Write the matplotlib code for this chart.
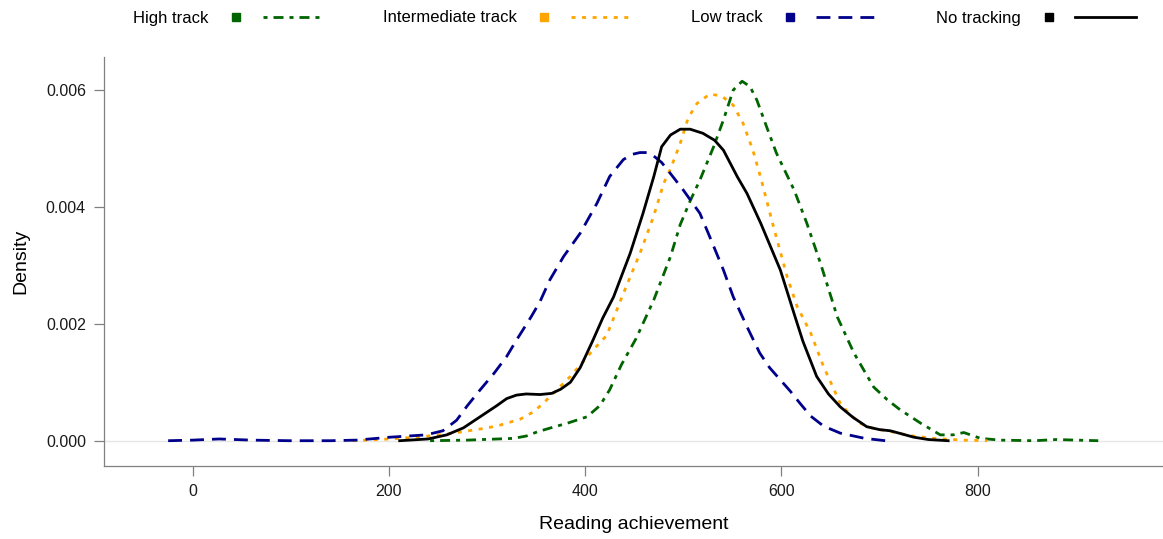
import matplotlib
matplotlib.use("Agg")
import matplotlib.pyplot as plt
from matplotlib.lines import Line2D
from matplotlib.legend_handler import HandlerBase

plt.rcParams['font.family'] = ['Liberation Sans', 'DejaVu Sans']

# Density curves (reading score, density)
high_x = [242, 280, 327, 340, 351, 365, 382, 402, 415, 425, 437, 452, 470, 487,
          497, 507, 517, 531, 541, 551, 560, 568, 575, 585, 595, 613, 626, 640,
          657, 674, 694, 708, 721, 742, 762, 775, 786, 803, 823, 858, 880, 923]
high_y = [0.0, 0.00001, 0.00004, 0.00008, 0.00015, 0.00022, 0.0003, 0.00041,
          0.0006, 0.00087, 0.0013, 0.00175, 0.00241, 0.00315, 0.0037, 0.0041,
          0.00446, 0.00503, 0.00549, 0.006, 0.00615, 0.00606, 0.00583, 0.00537,
          0.00492, 0.00429, 0.00372, 0.00303, 0.00212, 0.0015, 0.00092, 0.0007,
          0.00053, 0.0003, 0.0001, 0.0001, 0.00014, 0.00004, 0.00001, 0.0,
          0.00002, 0.0]

inter_x = [163, 190, 211, 240, 262, 293, 310, 334, 348, 361, 373, 385, 408, 422,
           439, 456, 470, 480, 487, 497, 505, 514, 527, 539, 551, 561, 571, 579,
           592, 606, 616, 630, 643, 660, 670, 680, 695, 708, 730, 755, 785, 810]
inter_y = [0.0, 0.00002, 0.00004, 0.00008, 0.00012, 0.0002, 0.00025, 0.00037,
           0.0005, 0.0007, 0.0009, 0.0011, 0.00155, 0.0018, 0.00252, 0.00321,
           0.00385, 0.0044, 0.00465, 0.00509, 0.00552, 0.00577, 0.00593, 0.0059,
           0.00574, 0.00543, 0.00497, 0.0045, 0.00366, 0.0028, 0.0023, 0.00184,
           0.00127, 0.00064, 0.00045, 0.0003, 0.0002, 0.00017, 0.00009, 0.00004,
           0.00001, 0.0]

low_x = [-25, 0, 27, 60, 99, 140, 167, 201, 238, 255, 269, 280, 293, 307, 320,
         330, 345, 354, 364, 378, 395, 412, 425, 439, 448, 456, 463, 470, 478,
         487, 500, 517, 527, 541, 551, 565, 578, 588, 599, 609, 619, 630, 643,
         660, 685, 706]
low_y = [0.0, 0.00001, 0.00003, 0.00001, 0.0, 0.0, 0.00001, 0.00006, 0.0001,
         0.00017, 0.00035, 0.0006, 0.00087, 0.00115, 0.00144, 0.00172, 0.00212,
         0.00238, 0.00275, 0.00315, 0.00355, 0.00406, 0.00452, 0.00481, 0.0049,
         0.00493, 0.00493, 0.00487, 0.00476, 0.00457, 0.00429, 0.00389, 0.00349,
         0.00292, 0.00246, 0.00195, 0.0015, 0.00125, 0.00104, 0.00085, 0.00064,
         0.00042, 0.00025, 0.00013, 0.00004, 0.0]

none_x = [211, 240, 259, 276, 293, 310, 320, 330, 340, 354, 366, 375, 385, 395,
          408, 418, 429, 446, 459, 470, 478, 487, 497, 507, 520, 532, 541, 555,
          565, 579, 599, 614, 622, 636, 648, 660, 673, 687, 700, 711, 722, 735,
          750, 770]
none_y = [0.0, 0.00003, 0.0001, 0.00022, 0.00041, 0.0006, 0.00072, 0.00078,
          0.0008, 0.00079, 0.00081, 0.00088, 0.001, 0.00125, 0.00172, 0.0021,
          0.00246, 0.00321, 0.00389, 0.00452, 0.00503, 0.00523, 0.00533, 0.00533,
          0.00526, 0.00514, 0.00497, 0.00452, 0.00423, 0.00372, 0.00292, 0.00212,
          0.0017, 0.0011, 0.0008, 0.00058, 0.0004, 0.00024, 0.00019, 0.00017,
          0.00012, 0.00006, 0.00002, 0.0]

labels = ['High track', 'Intermediate track', 'Low track', 'No tracking']
x_ticks = [0, 200, 400, 600, 800]
y_ticks = [0.0, 0.002, 0.004, 0.006]


class SquareLineHandler(HandlerBase):
    # legend entry: small square, then a short sample of the line
    def create_artists(self, legend, orig_handle, xdescent, ydescent,
                       width, height, fontsize, trans):
        y = height / 2 - ydescent
        x0 = -xdescent
        sq = Line2D([x0 + 0.08 * width], [y], marker='s', markersize=6,
                    linestyle='none', color=orig_handle.get_color(),
                    transform=trans)
        ln = Line2D([x0 + 0.36 * width, x0 + width], [y, y])
        ln.update_from(orig_handle)
        ln.set_marker('')
        ln.set_clip_on(False)
        ln.set_transform(trans)
        return [sq, ln]


fig = plt.figure(figsize=(11.63, 5.39), dpi=100)
ax = fig.add_axes([0.0894, 0.1354, 0.9106, 0.7594])

ax.axhline(0, color='#e6e6e6', lw=1.0, zorder=0)

l_high, = ax.plot(high_x, high_y, color='#006400', lw=2.0,
                  ls=(0, (1.45, 2.15, 3.6, 2.15)))
l_inter, = ax.plot(inter_x, inter_y, color='#FFA500', lw=2.0,
                   ls=(0, (1.45, 2.35)))
l_low, = ax.plot(low_x, low_y, color='#00008B', lw=2.0,
                 ls=(0, (5.0, 2.9)))
l_none, = ax.plot(none_x, none_y, color='black', lw=2.0, ls='-')

ax.set_xlim(-90.4, 989)
ax.set_ylim(-0.000433, 0.00657)
ax.set_xticks(x_ticks)
ax.set_yticks(y_ticks)
ax.set_yticklabels(['%.3f' % v for v in y_ticks])

for side in ['top', 'right']:
    ax.spines[side].set_visible(False)
for side in ['left', 'bottom']:
    ax.spines[side].set_color('#808080')
    ax.spines[side].set_linewidth(0.9)
ax.tick_params(direction='out', length=7, width=0.9, color='#808080',
               labelsize=11.5, labelcolor='#1a1a1a', pad=6)

ax.set_xlabel('Reading achievement', fontsize=14, labelpad=12)
ax.set_ylabel('Density', fontsize=14, labelpad=12)

fig.legend([l_high, l_inter, l_low, l_none], labels,
           loc='center', bbox_to_anchor=(0.5456, 1 - 18 / 539), ncol=4,
           frameon=False, markerfirst=False, fontsize=12,
           handlelength=5.7, handletextpad=1.2, columnspacing=3.55,
           handler_map={Line2D: SquareLineHandler()})

fig.savefig('out.png', dpi=100)
